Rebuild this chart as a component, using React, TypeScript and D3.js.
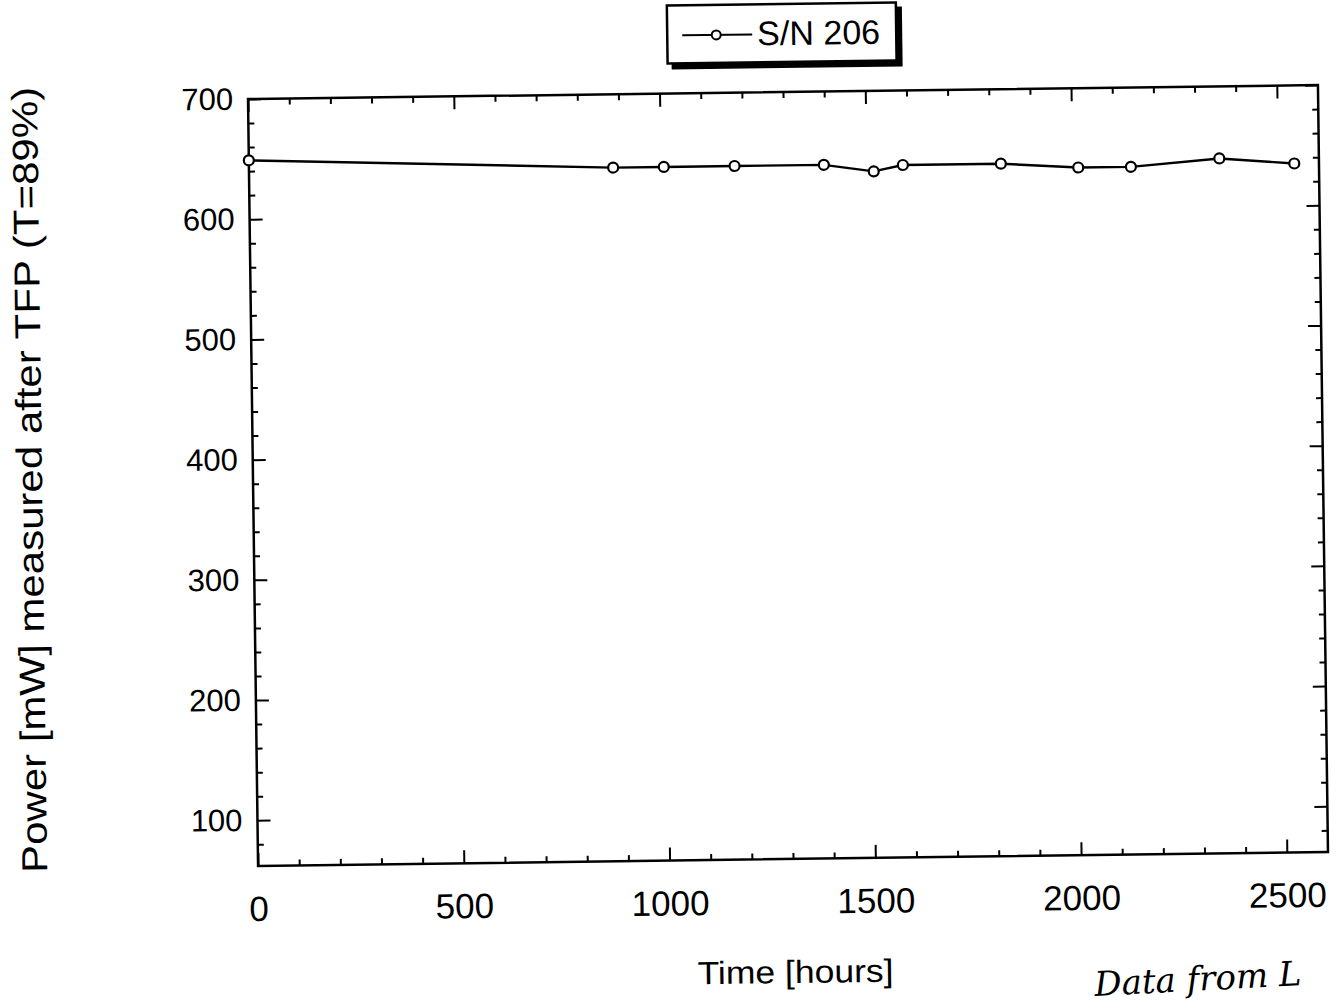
import * as d3 from "d3";
import { useEffect, useRef } from "react";

// measured hours and power (S/N 206)
const hours = [0, 885, 1008, 1180, 1397, 1518, 1589, 1827, 2015, 2143, 2358, 2540];
const power = [649, 639, 639, 639, 639, 633, 638, 638, 634, 634, 640, 635];

const xMajorTicks = [0, 500, 1000, 1500, 2000, 2500];
const yMajorTicks = [100, 200, 300, 400, 500, 600, 700];

const seriesName = "S/N 206";
const xTitle = "Time [hours]";
const yTitle = "Power [mW] measured after TFP (T=89%)";
const note = "Data from L";

const pageWidth = 1342;
const pageHeight = 1005;
const font = "'Liberation Sans', Arial, sans-serif";

function App() {
  const svgRef = useRef<SVGSVGElement | null>(null);

  useEffect(() => {
    const svg = d3.select(svgRef.current);
    svg.selectAll("*").remove();

    const margin = { top: 92, right: 19, bottom: 146, left: 253 };
    const width = pageWidth - margin.left - margin.right;
    const height = pageHeight - margin.top - margin.bottom;

    // the scan is tilted a little
    const root = svg.append("g").attr("transform", "rotate(-0.75, 788, 475.5)");

    const g = root
      .append("g")
      .attr("transform", `translate(${margin.left}, ${margin.top})`);

    const x = d3.scaleLinear().domain([0, 2600]).range([0, width]);
    const y = d3.scaleLinear().domain([62, 700]).range([height, 0]);

    const xMinor = d3.range(100, 2600, 100).filter((d) => d % 500 !== 0);
    const yMinor = d3.range(80, 700, 20).filter((d) => d % 100 !== 0);

    const styleAxis = (sel) => {
      sel.select(".domain").remove();
      sel.selectAll("line").attr("stroke", "#000").attr("stroke-width", 2);
    };

    // bottom
    g.append("g")
      .attr("transform", `translate(0, ${height})`)
      .call(
        d3
          .axisBottom(x)
          .tickValues(xMajorTicks)
          .tickSizeInner(-13)
          .tickPadding(30)
          .tickFormat(d3.format("d")),
      )
      .call(styleAxis)
      .call((a) =>
        a
          .selectAll("text")
          .attr("fill", "#000")
          .style("font-family", font)
          .style("font-size", "35px"),
      );
    g.append("g")
      .attr("transform", `translate(0, ${height})`)
      .call(d3.axisBottom(x).tickValues(xMinor).tickSizeInner(-6).tickFormat(() => ""))
      .call(styleAxis);

    // top
    g.append("g")
      .call(d3.axisTop(x).tickValues(xMajorTicks).tickSizeInner(-13).tickFormat(() => ""))
      .call(styleAxis);
    g.append("g")
      .call(d3.axisTop(x).tickValues(xMinor).tickSizeInner(-6).tickFormat(() => ""))
      .call(styleAxis);

    // left
    g.append("g")
      .call(
        d3
          .axisLeft(y)
          .tickValues(yMajorTicks)
          .tickSizeInner(-13)
          .tickPadding(15)
          .tickFormat(d3.format("d")),
      )
      .call(styleAxis)
      .call((a) =>
        a
          .selectAll("text")
          .attr("fill", "#000")
          .style("font-family", font)
          .style("font-size", "31px"),
      );
    g.append("g")
      .call(d3.axisLeft(y).tickValues(yMinor).tickSizeInner(-6).tickFormat(() => ""))
      .call(styleAxis);

    // right
    g.append("g")
      .attr("transform", `translate(${width}, 0)`)
      .call(d3.axisRight(y).tickValues(yMajorTicks).tickSizeInner(-13).tickFormat(() => ""))
      .call(styleAxis);
    g.append("g")
      .attr("transform", `translate(${width}, 0)`)
      .call(d3.axisRight(y).tickValues(yMinor).tickSizeInner(-6).tickFormat(() => ""))
      .call(styleAxis);

    g.append("rect")
      .attr("width", width)
      .attr("height", height)
      .attr("fill", "none")
      .attr("stroke", "#000")
      .attr("stroke-width", 2.5);

    const points = hours.map((h, i) => ({ h, p: power[i] }));

    const line = d3
      .line<{ h: number; p: number }>()
      .x((d) => x(d.h))
      .y((d) => y(d.p));

    g.append("path")
      .datum(points)
      .attr("d", line)
      .attr("fill", "none")
      .attr("stroke", "#000")
      .attr("stroke-width", 2.4);

    g.selectAll(".pt")
      .data(points)
      .join("circle")
      .attr("class", "pt")
      .attr("cx", (d) => x(d.h))
      .attr("cy", (d) => y(d.p))
      .attr("r", 5)
      .attr("fill", "#fff")
      .attr("stroke", "#000")
      .attr("stroke-width", 2.2);

    // axis titles
    root
      .append("text")
      .attr("x", 789)
      .attr("y", 983)
      .attr("text-anchor", "middle")
      .attr("textLength", 196)
      .attr("lengthAdjust", "spacingAndGlyphs")
      .text(xTitle)
      .style("font-family", font)
      .style("font-size", "32px");

    root
      .append("text")
      .attr("transform", "translate(42, 470) rotate(-90)")
      .attr("text-anchor", "middle")
      .attr("textLength", 786)
      .attr("lengthAdjust", "spacingAndGlyphs")
      .text(yTitle)
      .style("font-family", font)
      .style("font-size", "36px");

    // legend
    const lg = root.append("g").attr("transform", "translate(673, 4)");
    lg.append("rect")
      .attr("x", 4)
      .attr("y", 4)
      .attr("width", 231)
      .attr("height", 60)
      .attr("fill", "#000");
    lg.append("rect")
      .attr("width", 229)
      .attr("height", 58)
      .attr("fill", "#fff")
      .attr("stroke", "#000")
      .attr("stroke-width", 2.5);
    lg.append("line")
      .attr("x1", 15)
      .attr("x2", 85)
      .attr("y1", 30)
      .attr("y2", 30)
      .attr("stroke", "#000")
      .attr("stroke-width", 2);
    lg.append("circle")
      .attr("cx", 49)
      .attr("cy", 30)
      .attr("r", 4.5)
      .attr("fill", "#fff")
      .attr("stroke", "#000")
      .attr("stroke-width", 2);
    lg.append("text")
      .attr("x", 90)
      .attr("y", 41)
      .text(seriesName)
      .style("font-family", font)
      .style("font-size", "34px");

    // handwritten note
    svg
      .append("text")
      .attr("x", 1095)
      .attr("y", 996)
      .attr("transform", "rotate(-3, 1095, 996)")
      .text(note)
      .style("font-family", "'DejaVu Serif', serif")
      .style("font-style", "italic")
      .style("font-size", "34px");
  }, []);

  return (
    <svg
      ref={svgRef}
      width={pageWidth}
      height={pageHeight}
      style={{ position: "absolute", left: 0, top: 0, background: "#fff" }}
    ></svg>
  );
}

export default App;
